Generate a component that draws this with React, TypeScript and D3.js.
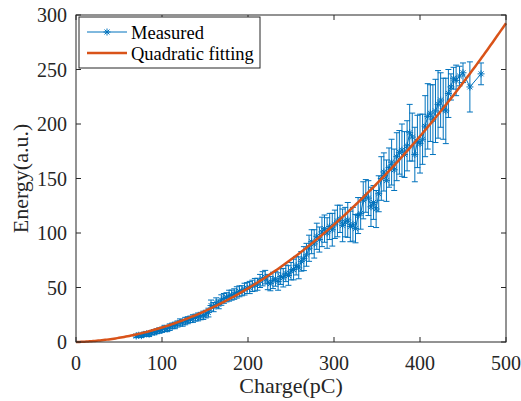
import React from 'react';
import * as d3 from 'd3';

const charge = [
  70, 73, 76, 79, 82, 85, 88, 91, 94, 97,
  100, 103, 106, 109, 112, 115, 118, 121, 124, 127,
  130, 133, 136, 139, 142, 145, 148, 151, 154, 157,
  160, 163, 166, 169, 172, 175, 178, 181, 184, 187,
  190, 193, 196, 199, 202, 205, 208, 211, 214, 217,
  220, 223, 226, 229, 232, 235, 238, 241, 244, 247,
  250, 253, 256, 259, 262, 265, 268, 271, 274, 277,
  280, 283, 286, 289, 292, 295, 298, 301, 304, 307,
  310, 313, 316, 319, 322, 325, 328, 331, 334, 337,
  340, 343, 346, 349, 352, 355, 358, 361, 364, 367,
  370, 373, 376, 379, 382, 385, 388, 391, 394, 397,
  400, 403, 406, 409, 412, 415, 418, 421, 424, 427,
  430, 433, 436, 439, 442, 446, 450, 458, 471,
];
const energy = [
  5.5, 6.2, 5.8, 7.0, 7.5, 7.2, 8.6, 9.0, 9.8, 10.5,
  11.2, 12.5, 12.0, 13.6, 14.8, 15.2, 16.5, 18.0, 17.5, 19.2,
  20.0, 20.8, 21.5, 22.4, 23.0, 23.8, 24.5, 25.6, 27.0, 33.5,
  32.0, 36.0, 34.5, 38.5, 40.0, 41.0, 42.5, 43.0, 44.0, 45.5,
  46.5, 47.0, 48.5, 49.5, 50.0, 51.5, 52.5, 53.0, 56.0, 58.0,
  59.5, 55.0, 53.5, 56.5, 58.0, 55.5, 60.0, 59.0, 63.0, 61.0,
  65.0, 66.5, 70.0, 68.0, 74.0, 76.5, 80.0, 86.0, 92.0, 90.0,
  97.0, 94.0, 101.0, 104.0, 100.0, 106.0, 103.0, 108.0, 111.0, 113.0,
  107.0, 110.0, 112.0, 106.0, 108.0, 104.0, 116.0, 118.0, 130.0, 134.0,
  132.0, 124.0, 128.0, 122.0, 136.0, 150.0, 156.0, 148.0, 160.0, 165.0,
  158.0, 170.0, 174.0, 176.0, 172.0, 180.0, 192.0, 188.0, 172.0, 184.0,
  182.0, 186.0, 198.0, 207.0, 210.0, 204.0, 212.0, 218.0, 222.0, 214.0,
  212.0, 228.0, 234.0, 242.0, 240.0, 244.0, 247.0, 234.0, 246.0,
];
const errHalf = [
  1.5, 1.8, 1.6, 2.0, 1.8, 2.2, 2.0, 2.4, 2.2, 2.5,
  2.4, 2.8, 2.5, 3.0, 2.6, 3.0, 2.8, 3.2, 3.0, 3.4,
  3.2, 3.0, 3.5, 3.2, 3.6, 3.4, 3.8, 3.5, 4.0, 5.0,
  4.2, 4.5, 4.0, 4.8, 4.5, 4.2, 5.0, 4.6, 4.8, 5.2,
  5.0, 4.6, 5.4, 5.0, 5.6, 5.2, 5.8, 5.5, 6.0, 6.5,
  6.2, 7.0, 6.5, 7.5, 6.8, 8.0, 7.2, 8.5, 7.6, 9.0,
  8.0, 9.5, 8.5, 10.0, 9.0, 11.0, 10.5, 12.0, 11.0, 13.0,
  12.0, 11.5, 13.5, 12.5, 14.0, 12.0, 15.0, 13.0, 14.5, 12.5,
  15.0, 13.5, 16.0, 14.0, 15.5, 13.0, 16.5, 14.5, 17.0, 15.0,
  16.0, 18.0, 15.5, 17.0, 16.5, 20.0, 17.5, 19.0, 18.0, 21.0,
  19.0, 22.0, 20.0, 24.0, 21.0, 23.0, 26.0, 22.0, 25.0, 24.0,
  27.0, 23.0, 28.0, 30.0, 26.0, 32.0, 29.0, 31.0, 25.0, 28.0,
  30.0, 22.0, 12.0, 10.0, 14.0, 9.0, 9.0, 23.0, 10.0,
];
const fitCoefA = 0.00113;
const fitCoefB = 0.02;
const xTicks = [0, 100, 200, 300, 400, 500];
const yTicks = [0, 50, 100, 150, 200, 250, 300];
const seriesNames = ['Measured', 'Quadratic fitting'];

const BLUE = '#0072BD';
const ORANGE = '#D95319';
const FONT = '"Liberation Serif", "Times New Roman", serif';

function asterisk(cx: number, cy: number, r: number) {
  const d = r * Math.SQRT1_2;
  return `M${cx - r},${cy}L${cx + r},${cy}M${cx},${cy - r}L${cx},${cy + r}` +
    `M${cx - d},${cy - d}L${cx + d},${cy + d}M${cx - d},${cy + d}L${cx + d},${cy - d}`;
}

export default function App() {
  const W = 521, H = 401;
  const L = 76, R = 506, T = 15, B = 342;
  const x = d3.scaleLinear().domain([0, 500]).range([L, R]);
  const y = d3.scaleLinear().domain([0, 300]).range([B, T]);
  const pts = charge.map((c, i) => ({ c, e: energy[i], d: errHalf[i] }));
  const measLine = d3.line<any>().x((p) => x(p.c)).y((p) => y(p.e));
  const fitQ = d3.range(0, 500.001, 2);
  const fitLine = d3.line<number>().x((q) => x(q)).y((q) => y(fitCoefA * q * q + fitCoefB * q));
  const tl = 5;
  const cap = 3;

  return (
    <div style={{ position: 'absolute', left: 0, top: 0 }}>
      <svg width={W} height={H} style={{ display: 'block', background: '#fff' }} fontFamily={FONT}>
        <rect x={0} y={0} width={W} height={H} fill="#fff" />
        {/* error bars */}
        <g stroke={BLUE} strokeWidth={1} fill="none">
          {pts.map((p, i) => (
            <path key={i} d={`M${x(p.c)},${y(p.e - p.d)}L${x(p.c)},${y(p.e + p.d)}` +
              `M${x(p.c) - cap},${y(p.e - p.d)}L${x(p.c) + cap},${y(p.e - p.d)}` +
              `M${x(p.c) - cap},${y(p.e + p.d)}L${x(p.c) + cap},${y(p.e + p.d)}`} />
          ))}
        </g>
        <path d={measLine(pts) || ''} stroke={BLUE} strokeWidth={1} fill="none" />
        <g stroke={BLUE} strokeWidth={1} fill="none">
          {pts.map((p, i) => <path key={i} d={asterisk(x(p.c), y(p.e), 3.5)} />)}
        </g>
        <path d={fitLine(fitQ) || ''} stroke={ORANGE} strokeWidth={2.5} fill="none" />
        {/* axes box */}
        <rect x={L} y={T} width={R - L} height={B - T} fill="none" stroke="#262626" strokeWidth={1} />
        <g stroke="#262626" strokeWidth={1}>
          {xTicks.map((t) => (
            <g key={t}>
              <line x1={x(t)} x2={x(t)} y1={B} y2={B - tl} />
              <line x1={x(t)} x2={x(t)} y1={T} y2={T + tl} />
            </g>
          ))}
          {yTicks.map((t) => (
            <g key={t}>
              <line x1={L} x2={L + tl} y1={y(t)} y2={y(t)} />
              <line x1={R} x2={R - tl} y1={y(t)} y2={y(t)} />
            </g>
          ))}
        </g>
        <g fill="#262626" fontSize={20}>
          {xTicks.map((t) => (
            <text key={t} x={x(t)} y={B + 28} textAnchor="middle">{t}</text>
          ))}
          {yTicks.map((t) => (
            <text key={t} x={L - 9} y={y(t) + 7} textAnchor="end">{t}</text>
          ))}
        </g>
        <text x={(L + R) / 2} y={393} textAnchor="middle" fontSize={22} fill="#262626">Charge(pC)</text>
        <text transform={`translate(28,${(T + B) / 2}) rotate(-90)`} textAnchor="middle" fontSize={22} fill="#262626">Energy(a.u.)</text>
        {/* legend */}
        <rect x={79} y={17} width={181} height={51} fill="#fff" stroke="#262626" strokeWidth={1} />
        <line x1={87} x2={127} y1={32} y2={32} stroke={BLUE} strokeWidth={1} />
        <path d={asterisk(107, 32, 3.5)} stroke={BLUE} strokeWidth={1} fill="none" />
        <line x1={87} x2={127} y1={53} y2={53} stroke={ORANGE} strokeWidth={2.5} />
        <g fontSize={18.5} fill="#000">
          <text x={131} y={38.5}>{seriesNames[0]}</text>
          <text x={131} y={59.5}>{seriesNames[1]}</text>
        </g>
      </svg>
    </div>
  );
}
